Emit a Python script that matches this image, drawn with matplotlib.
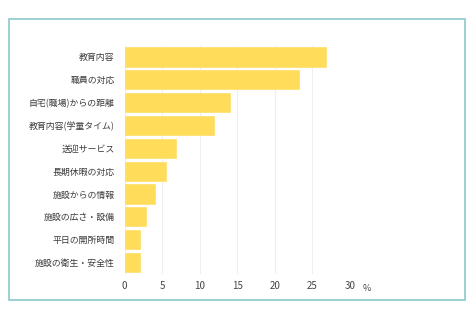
import matplotlib
matplotlib.use("Agg")
import matplotlib.pyplot as plt
from matplotlib.patches import Rectangle

plt.rcParams['font.family'] = ['Noto Sans CJK JP', 'DejaVu Sans']

# 項目と割合(%)
categories = ["教育内容", "職員の対応", "自宅(職場)からの距離", "教育内容(学童タイム)",
              "送迎サービス", "長期休暇の対応", "施設からの情報", "施設の広さ・設備",
              "平日の開所時間", "施設の衛生・安全性"]
values = [26.8, 23.2, 14.1, 11.9, 6.9, 5.5, 4.1, 2.8, 2.1, 2.1]
xticks = [0, 5, 10, 15, 20, 25, 30]

fig = plt.figure(figsize=(4.75, 3.2), dpi=100)

# 外枠
fig.patches.append(Rectangle((9 / 475, 1 - 300 / 320), (465 - 9) / 475, (300 - 19) / 320,
                             transform=fig.transFigure, fill=False,
                             edgecolor="#94cdd0", linewidth=1.3))

ax = fig.add_axes([124.5 / 475, 1 - 274 / 320, (350 - 124.5) / 475, (274 - 45.5) / 320])
ypos = range(len(categories))
ax.barh(ypos, values, height=0.84, color="#ffdc5a", edgecolor="#ffe170", linewidth=0.6, zorder=3)
ax.set_ylim(len(categories) - 0.5, -0.5)
ax.set_xlim(0, 30)
ax.set_yticks(list(ypos))
ax.set_yticklabels(categories, fontsize=6.4, color="#3a3a3a")
ax.set_xticks(xticks)
ax.set_xticklabels([str(t) for t in xticks], fontsize=7, color="#444444")
ax.tick_params(length=0, pad=5)
ax.tick_params(axis="y", pad=7)
ax.grid(axis="x", color="#efefef", linewidth=0.8, zorder=0)
for s in ax.spines.values():
    s.set_visible(False)
ax.text(1.075, -0.045, "%", transform=ax.transAxes, fontsize=6.5, color="#444444",
        ha="center", va="top")

fig.savefig("out.png", dpi=100)
